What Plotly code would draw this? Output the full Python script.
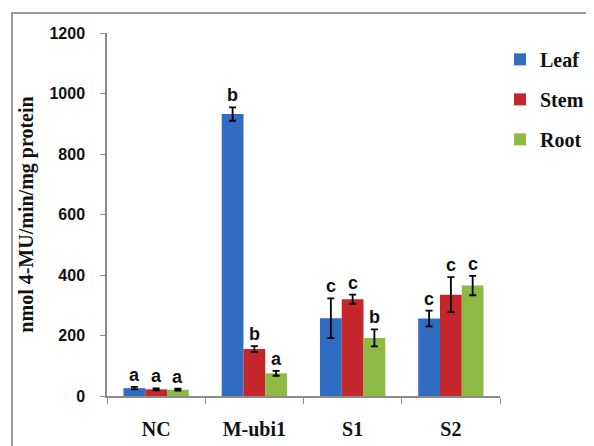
import plotly.graph_objects as go

categories = ["NC", "M-ubi1", "S1", "S2"]
series = ["Leaf", "Stem", "Root"]
leaf = [26, 932, 257, 256]
stem = [22, 155, 320, 335]
root = [21, 75, 192, 365]
leaf_err = [4, 22, 66, 26]
stem_err = [3, 10, 15, 58]
root_err = [3, 8, 28, 32]
leaf_lbl = ["a", "b", "c", "c"]
stem_lbl = ["a", "b", "c", "c"]
root_lbl = ["a", "a", "b", "c"]
y_ticks = [0, 200, 400, 600, 800, 1000, 1200]

colors = ["#2f6cc2", "#c5262c", "#8dba45"]
# page has an 8px body margin, so the figure is drawn at (8, 8)
W, H = 586, 438
L, R, T, B = 99, 94, 25, 50

fig = go.Figure()
vals = [leaf, stem, root]
errs = [leaf_err, stem_err, root_err]
lbls = [leaf_lbl, stem_lbl, root_lbl]
for name, v, e, c in zip(series, vals, errs, colors):
    fig.add_trace(go.Bar(
        x=categories, y=v, name=f"<b>{name}</b>", legendgroup=name,
        marker=dict(color=c, line=dict(width=0)),
        error_y=dict(type="data", array=e, color="black", thickness=1.8, width=3.5),
    ))

# significance letters above error bars
ncat = len(categories)
group_w = 1 - 0.335
bar_w = group_w / 3
for si, (v, e, lab) in enumerate(zip(vals, errs, lbls)):
    for ci in range(ncat):
        xpos = ci - group_w / 2 + bar_w * (si + 0.5)
        fig.add_annotation(
            x=xpos, y=v[ci] + e[ci], xref="x", yref="y", text=f"<b>{lab[ci]}</b>",
            showarrow=False, yanchor="bottom", yshift=0,
            font=dict(family="Liberation Sans", size=18, color="#111"),
        )

fig.update_layout(
    width=W, height=H,
    margin=dict(l=L, r=R, t=T, b=B, autoexpand=False),
    paper_bgcolor="white", plot_bgcolor="white",
    barmode="group", bargap=0.335, bargroupgap=0,
    showlegend=True,
    legend=dict(
        x=1.0, y=0.981, xanchor="left", yanchor="top",
        font=dict(family="Liberation Serif", size=20, color="#111"),
        itemwidth=30, tracegroupgap=11, traceorder="grouped",
        bgcolor="rgba(0,0,0,0)",
    ),
    xaxis=dict(
        type="category", showline=True, linecolor="#8c8c8c", linewidth=1.5,
        ticks="outside", tickson="boundaries", ticklen=6, tickcolor="#8c8c8c",
        tickfont=dict(family="Liberation Serif", size=20, color="#111"),
        ticklabelstandoff=14,
        range=[-0.5, 3.5], showgrid=False,
        tickvals=categories, ticktext=[f"<b>{c}</b>" for c in categories],
    ),
    yaxis=dict(
        range=[0, 1200], tickvals=y_ticks, ticktext=[f"<b>{t}</b>" for t in y_ticks],
        showline=True, linecolor="#8c8c8c",
        linewidth=1.5, ticks="outside", ticklen=5, tickcolor="#8c8c8c",
        tickfont=dict(family="Liberation Sans", size=16, color="#111"),
        ticklabelstandoff=12, showgrid=False, zeroline=False,
        title=dict(text="<b>nmol 4-MU/min/mg protein</b>", standoff=10,
                   font=dict(family="Liberation Serif", size=20, color="#111")),
    ),
)

# outer frame (top and left visible)
pw, ph = W - L - R, H - T - B
fig.add_shape(type="rect", xref="paper", yref="paper",
              x0=(4 - L) / pw, x1=(620 - L) / pw,
              y0=-(470 - (T + ph)) / ph, y1=(T + ph - 5) / ph,
              line=dict(color="#9a9a9a", width=2), layer="below")

fig.write_html("out.html")
